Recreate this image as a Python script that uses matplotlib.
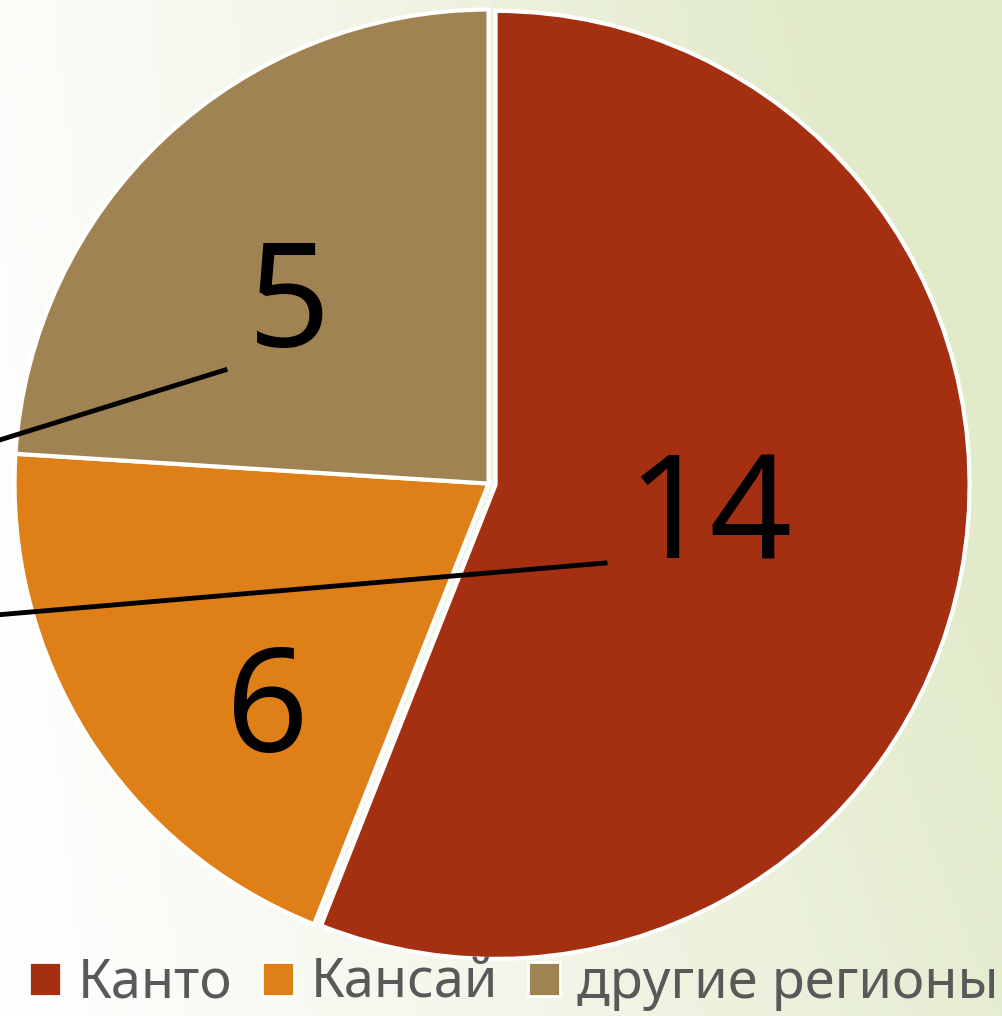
import numpy as np
import matplotlib
matplotlib.use("Agg")
import matplotlib.pyplot as plt
from matplotlib.lines import Line2D
from matplotlib.colors import LinearSegmentedColormap

# wedge sizes as drawn (the Kansai slice is the narrower one)
regions = ["Канто", "Кансай", "другие регионы"]
sizes = [14, 5, 6]
colors = ["#A52F11", "#DE7F18", "#A08353"]
# data labels, moved by hand in the original chart
label_text = ["14", "6", "5"]
label_pos = [(0.466, -0.08), (-0.466, -0.487), (-0.42, 0.368)]

plt.rcParams["font.family"] = ["Noto Sans", "DejaVu Sans"]

fig = plt.figure(figsize=(10.03, 10.16), dpi=100)

# background gradient, white top-left to pale green right
bg = fig.add_axes([0, 0, 1, 1], zorder=-1)
xx, yy = np.meshgrid(np.linspace(0, 1, 200), np.linspace(0, 1, 200))
grad = np.clip(0.85 * xx + 0.25 * (1 - yy) * xx + 0.1 * (1 - yy), 0, 1)
cmap = LinearSegmentedColormap.from_list("bg", ["#ffffff", "#f1f5e6", "#e1eac9"])
bg.imshow(grad, cmap=cmap, aspect="auto", extent=[0, 1, 0, 1], origin="upper")
bg.axis("off")

ax = fig.add_axes([0.0145, 0.0575, 0.9452, 0.9331])
wedges, _ = ax.pie(sizes, colors=colors, startangle=90, counterclock=False,
                   explode=[0.015, 0.0, 0.0], radius=1.0,
                   wedgeprops=dict(edgecolor="white", linewidth=3, clip_on=False))
ax.set_xlim(-1.0, 1.0)
ax.set_ylim(-1.0, 1.0)
ax.set_aspect("equal")
ax.axis("off")

for txt, (x, y) in zip(label_text, label_pos):
    ax.text(x, y, txt, ha="center", va="center", fontsize=104,
            fontweight="light", color="black")

# leader lines running off the left edge
fig.add_artist(Line2D([225 / 1003, -0.01], [1 - 370 / 1016, 1 - 443 / 1016],
                      color="black", lw=3.5, transform=fig.transFigure))
fig.add_artist(Line2D([605 / 1003, -0.01], [1 - 563 / 1016, 1 - 615.5 / 1016],
                      color="black", lw=3.5, transform=fig.transFigure))

leg = fig.legend(wedges, regions, loc="lower center", ncol=3,
                 bbox_to_anchor=(0.512, -0.043), frameon=False, fontsize=39,
                 handlelength=0.6, handleheight=0.6, handletextpad=0.3,
                 columnspacing=0.55, labelcolor="#595959")
for h in leg.legend_handles:
    h.set_edgecolor("white")
    h.set_linewidth(2)

fig.savefig("out.png", dpi=100)
